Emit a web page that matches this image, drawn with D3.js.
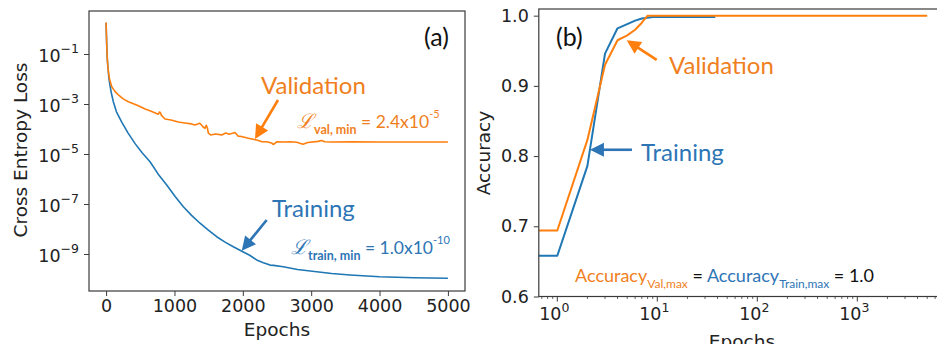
<!DOCTYPE html>
<html><head><meta charset="utf-8">
<script src="https://cdn.jsdelivr.net/npm/d3@7"></script>
<style>body{margin:0;background:#fff}svg{display:block}</style>
</head><body>
<svg id="c" width="937" height="344"></svg>
<script>
// ---------------- DATA ----------------
// Panel (a): cross entropy loss vs epochs
const lossTrainEpochs = [0,5,10,15,20,30,40,60,80,107,150,229,320,424,530,643,760,887,1010,1130,1250,1374,1500,1618,1740,1861,2007,2100,2203,2300,2398,2450,2592,2800,3080,3300,3567,4000,4500,5000];
const lossTrainValues = [1.8,0.58,0.2,0.091,0.05,0.025,0.011,5e-3,2.5e-3,1.2e-3,5e-4,1.9e-4,7e-5,2.6e-5,1.1e-5,4.9e-6,1.6e-6,5.8e-7,2e-7,7.8e-8,3.5e-8,1.7e-8,8.9e-9,4.9e-9,3e-9,1.95e-9,1.2e-9,8.9e-10,5.8e-10,4.5e-10,3.6e-10,3.5e-10,3.1e-10,2.4e-10,1.95e-10,1.66e-10,1.45e-10,1.23e-10,1.12e-10,1.07e-10];
const lossValEpochs = [0,5,10,15,20,30,34,50,83,130,180,250,326,400,480,570,650,720,765,780,795,810,862,950,1057,1150,1250,1300,1370,1385,1420,1447,1465,1480,1496,1530,1600,1691,1750,1800,1886,1930,1980,2080,2150,2203,2280,2349,2420,2450,2500,2600,2700,2788,2880,2950,3100,3150,3200,3300,3600,4000,4500,5000];
const lossValValues = [1.8,0.58,0.2,0.091,0.05,0.025,0.0195,0.01,4.9e-3,3.2e-3,2.3e-3,1.6e-3,1.23e-3,1.02e-3,8.3e-4,6.3e-4,5.2e-4,4.4e-4,3.9e-4,4.8e-4,4.5e-4,3.5e-4,2.5e-4,2.3e-4,1.9e-4,1.74e-4,1.6e-4,1.45e-4,1.7e-4,1.55e-4,1.2e-4,1.07e-4,1.4e-4,1.15e-4,6.8e-5,5.8e-5,6.3e-5,5.8e-5,6.9e-5,6.2e-5,7.2e-5,5.2e-5,5e-5,4.3e-5,3.9e-5,3.6e-5,3.1e-5,3.1e-5,2.75e-5,2.4e-5,3.1e-5,3e-5,3.1e-5,2.95e-5,2.45e-5,2.9e-5,3.2e-5,3.5e-5,3.1e-5,3.0e-5,3.05e-5,3.0e-5,3.0e-5,3.0e-5];
const lossXTicks = [0,1000,2000,3000,4000,5000];
const lossYTickExps = [-1,-3,-5,-7,-9];

// Panel (b): accuracy vs epochs (log x)
const accTrainEpochs = [0,1,2,3,4,5,6,7,8,9,10,15,20,30,38];
const accTrainValues = [0.658,0.658,0.786,0.946,0.982,0.988,0.993,0.996,0.997,0.998,0.998,0.998,0.998,0.998,0.998];
const accValEpochs = [0,1,2,3,4,5,6,7,8,10,100,1000,5000];
const accValValues = [0.694,0.694,0.823,0.93,0.965,0.972,0.98,0.99,1.0,1.0,1.0,1.0,1.0];
const accYTicks = [0.6,0.7,0.8,0.9,1.0];
const accXTickExps = [0,1,2,3];

// ---------------- STYLE ----------------
const C_TRAIN = "#1f77b4", C_VAL = "#ff7f0e";
const T_TRAIN = "#2e75b6", T_VAL = "#f07f22";
const AX = "#3a3a3a";
const TICKFONT = "DejaVu Sans";
const ANNFONT = "Lato";

const svg = d3.select("#c");

function arrow(g, x1, y1, x2, y2, color, len = 14, half = 7, lw = 2.6) {
  const dx = x2 - x1, dy = y2 - y1, L = Math.hypot(dx, dy);
  const ux = dx / L, uy = dy / L;
  const bx = x2 - ux * len, by = y2 - uy * len;
  g.append("line").attr("x1", x1).attr("y1", y1).attr("x2", bx + ux * 2).attr("y2", by + uy * 2)
    .attr("stroke", color).attr("stroke-width", lw);
  g.append("path").attr("d", `M${x2},${y2}L${bx - uy * half},${by + ux * half}L${bx + uy * half},${by - ux * half}Z`)
    .attr("fill", color);
}

// ================= PANEL A =================
const A = {l: 89, r: 465, t: 11, b: 291};
const ax = d3.scaleLinear().domain([-250, 5250]).range([A.l, A.r]);
const ay = d3.scaleLog().domain([Math.pow(10, -10.48), Math.pow(10, 0.72)]).range([A.b, A.t]);
const ga = svg.append("g");

const lineA = (E, V) => d3.line().x((d, i) => ax(E[i])).y((d, i) => ay(V[i]))(E);
ga.append("path").attr("d", lineA(lossTrainEpochs, lossTrainValues)).attr("fill", "none")
  .attr("stroke", C_TRAIN).attr("stroke-width", 1.6).attr("stroke-linejoin", "round");
ga.append("path").attr("d", lineA(lossValEpochs, lossValValues)).attr("fill", "none")
  .attr("stroke", C_VAL).attr("stroke-width", 1.6).attr("stroke-linejoin", "round");

ga.append("rect").attr("x", A.l).attr("y", A.t).attr("width", A.r - A.l).attr("height", A.b - A.t)
  .attr("fill", "none").attr("stroke", AX).attr("stroke-width", 1.2);

const xAxA = ga.append("g").attr("transform", `translate(0,${A.b})`)
  .call(d3.axisBottom(ax).tickValues(lossXTicks).tickSize(5).tickPadding(4).tickFormat(d3.format("d")));
xAxA.select(".domain").remove();
xAxA.selectAll("line").attr("stroke", AX);
xAxA.selectAll("text").attr("font-family", TICKFONT).attr("font-size", 17.5).attr("fill", "#222");

const yAxA = ga.append("g").attr("transform", `translate(${A.l},0)`)
  .call(d3.axisLeft(ay).tickValues(lossYTickExps.map(e => Math.pow(10, e))).tickSize(5).tickFormat(""));
yAxA.select(".domain").remove();
yAxA.selectAll("line").attr("stroke", AX);
lossYTickExps.forEach(e => {
  const t = ga.append("text").attr("x", 79).attr("y", ay(Math.pow(10, e)) + 7.5)
    .attr("text-anchor", "end").attr("font-family", TICKFONT).attr("fill", "#222");
  t.append("tspan").attr("font-size", 17.5).text("10");
  t.append("tspan").attr("font-size", 12.5).attr("dy", -9).text("\u2212" + Math.abs(e));
});

ga.append("text").attr("transform", `translate(26.5,150) rotate(-90)`).attr("text-anchor", "middle")
  .attr("font-family", TICKFONT).attr("font-size", 18.5).attr("fill", "#222").text("Cross Entropy Loss");
ga.append("text").attr("x", 277).attr("y", 336).attr("text-anchor", "middle")
  .attr("font-family", TICKFONT).attr("font-size", 18.5).attr("fill", "#222").text("Epochs");

ga.append("text").attr("x", 424).attr("y", 46).attr("font-family", ANNFONT).attr("font-size", 25)
  .attr("fill", "#111").text("(a)");

ga.append("text").attr("x", 261).attr("y", 94).attr("font-family", ANNFONT).attr("font-size", 24)
  .attr("fill", T_VAL).text("Validation");
arrow(ga, ax(2515), ay(Math.pow(10, -2.84)), ax(2178), ay(4e-5), C_VAL);

function lossLabel(g, x, y, sub, val, exp, color) {
  const t = g.append("text").attr("x", x).attr("y", y).attr("fill", color).attr("font-family", ANNFONT);
  t.append("tspan").attr("font-family", "DejaVu Serif").attr("font-style", "italic").attr("font-size", 20).text("\u2112");
  t.append("tspan").attr("font-size", 12.5).attr("font-weight", "bold").attr("dy", 6).text(sub);
  t.append("tspan").attr("font-size", 17.5).attr("dy", -6).text(" = " + val);
  t.append("tspan").attr("font-size", 11).attr("dy", -10).text(exp);
}
lossLabel(ga, 297, 128, "val, min", "2.4x10", "-5", T_VAL);

ga.append("text").attr("x", 272).attr("y", 217).attr("font-family", ANNFONT).attr("font-size", 24)
  .attr("fill", T_TRAIN).text("Training");
arrow(ga, ax(2349), ay(Math.pow(10, -7.64)), ax(1984), ay(1.35e-9), T_TRAIN);
lossLabel(ga, 291, 254, "train, min", "1.0x10", "-10", T_TRAIN);

// ================= PANEL B =================
const B = {l: 538.8, r: 945.8, t: 9, b: 296.5};
const bx = d3.scaleLog().domain([Math.pow(10, -0.185), Math.pow(10, 3.885)]).range([B.l, B.r]);
const by = d3.scaleLinear().domain([0.6, 1.0095]).range([B.b, B.t]);
const gb = svg.append("g");
const xb = e => bx(Math.max(e, bx.domain()[0]));

const lineB = (E, V) => d3.line().x((d, i) => xb(E[i])).y((d, i) => by(V[i]))(E);
gb.append("path").attr("d", lineB(accTrainEpochs, accTrainValues)).attr("fill", "none")
  .attr("stroke", C_TRAIN).attr("stroke-width", 2).attr("stroke-linejoin", "round");
gb.append("path").attr("d", lineB(accValEpochs, accValValues)).attr("fill", "none")
  .attr("stroke", C_VAL).attr("stroke-width", 2).attr("stroke-linejoin", "round");

gb.append("rect").attr("x", B.l).attr("y", B.t).attr("width", B.r - B.l).attr("height", B.b - B.t)
  .attr("fill", "none").attr("stroke", AX).attr("stroke-width", 1.2);

const yAxB = gb.append("g").attr("transform", `translate(${B.l},0)`)
  .call(d3.axisLeft(by).tickValues(accYTicks).tickSize(5).tickPadding(5).tickFormat(d3.format(".1f")));
yAxB.select(".domain").remove();
yAxB.selectAll("line").attr("stroke", AX);
yAxB.selectAll("text").attr("font-family", TICKFONT).attr("font-size", 17.5).attr("fill", "#222");

// minor ticks
const minor = [];
for (let e = -1; e <= 3; e++) for (let k = 2; k <= 9; k++) {
  const v = k * Math.pow(10, e);
  if (v > bx.domain()[0] && v < bx.domain()[1]) minor.push(v);
}
gb.selectAll(".mt").data(minor).enter().append("line")
  .attr("x1", d => bx(d)).attr("x2", d => bx(d)).attr("y1", B.b).attr("y2", B.b + 2.5)
  .attr("stroke", AX).attr("stroke-width", 0.8);
const majors = accXTickExps.map(e => Math.pow(10, e));
gb.selectAll(".Mt").data(majors).enter().append("line")
  .attr("x1", d => bx(d)).attr("x2", d => bx(d)).attr("y1", B.b).attr("y2", B.b + 5)
  .attr("stroke", AX).attr("stroke-width", 1);
accXTickExps.forEach(e => {
  const t = gb.append("text").attr("x", bx(Math.pow(10, e)) - 3).attr("y", 320)
    .attr("text-anchor", "middle").attr("font-family", TICKFONT).attr("fill", "#222");
  t.append("tspan").attr("font-size", 17.5).text("10");
  t.append("tspan").attr("font-size", 12.5).attr("dy", -8).text(String(e));
});

gb.append("text").attr("transform", `translate(490,153) rotate(-90)`).attr("text-anchor", "middle")
  .attr("font-family", TICKFONT).attr("font-size", 18.5).attr("fill", "#222").text("Accuracy");
gb.append("text").attr("x", 742).attr("y", 348).attr("text-anchor", "middle")
  .attr("font-family", TICKFONT).attr("font-size", 18.5).attr("fill", "#222").text("Epochs");

gb.append("text").attr("x", 556).attr("y", 46).attr("font-family", ANNFONT).attr("font-size", 25)
  .attr("fill", "#111").text("(b)");
gb.append("text").attr("x", 669).attr("y", 74).attr("font-family", ANNFONT).attr("font-size", 24)
  .attr("fill", T_VAL).text("Validation");
arrow(gb, bx(9.86), by(0.937), bx(4.94), by(0.965), C_VAL);
gb.append("text").attr("x", 641).attr("y", 161).attr("font-family", ANNFONT).attr("font-size", 24)
  .attr("fill", T_TRAIN).text("Training");
arrow(gb, bx(5.58), by(0.809), bx(2.12), by(0.809), T_TRAIN);

const bt = gb.append("text").attr("x", 575).attr("y", 282).attr("font-family", ANNFONT).attr("font-size", 18);
bt.append("tspan").attr("fill", T_VAL).text("Accuracy");
bt.append("tspan").attr("fill", T_VAL).attr("font-size", 12).attr("dy", 6).text("Val,max");
bt.append("tspan").attr("fill", "#111").attr("dy", -6).text(" = ");
bt.append("tspan").attr("fill", T_TRAIN).text("Accuracy");
bt.append("tspan").attr("fill", T_TRAIN).attr("font-size", 12).attr("dy", 6).text("Train,max");
bt.append("tspan").attr("fill", "#111").attr("dy", -6).text(" = 1.0");
</script>
</body></html>
